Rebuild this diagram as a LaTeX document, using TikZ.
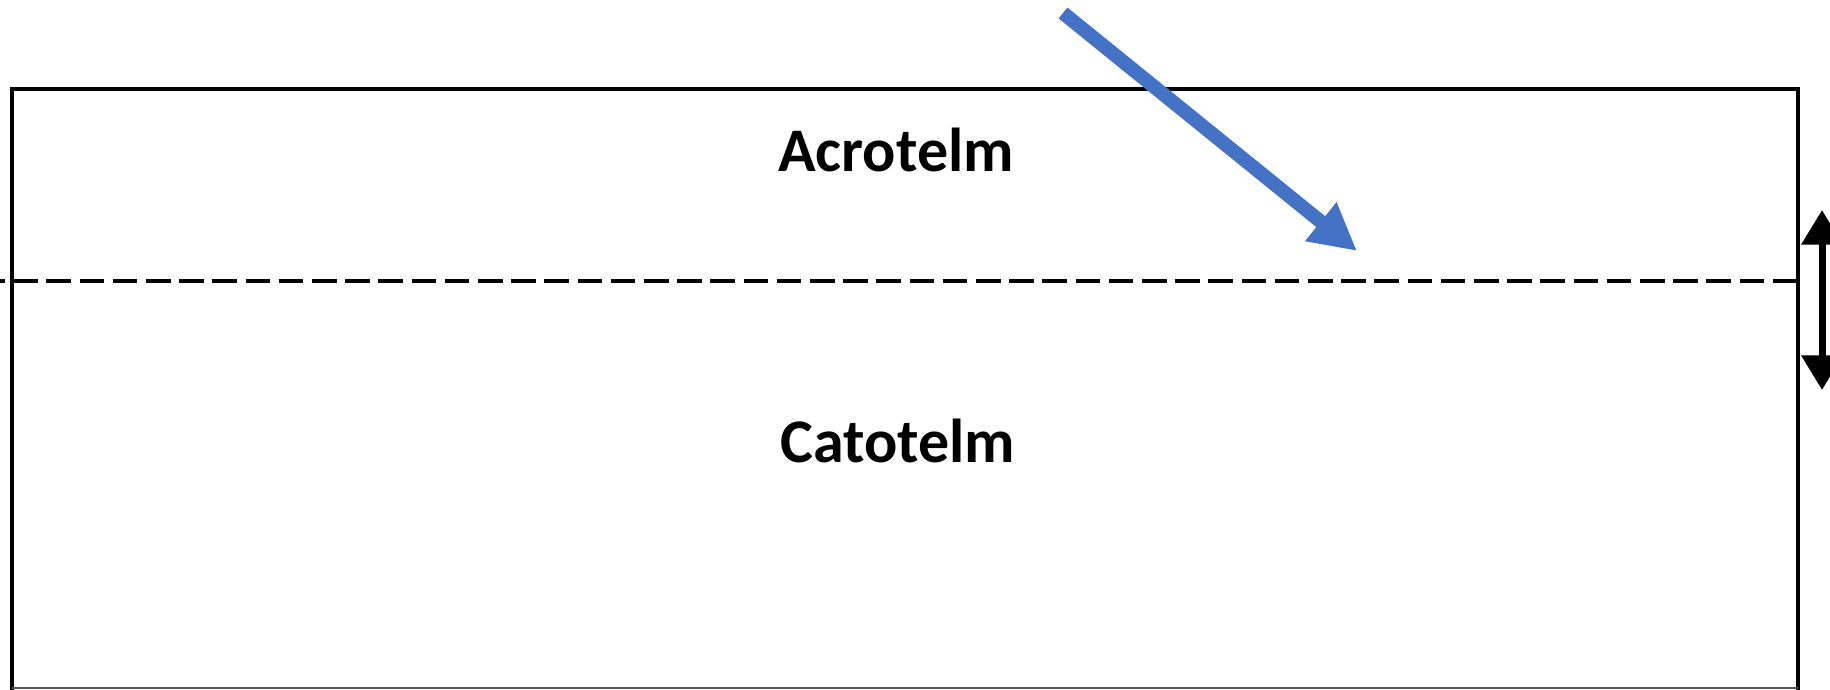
\documentclass[tikz,border=0pt]{standalone}
\usepackage{fontspec}
\setmainfont{Carlito}
\usetikzlibrary{arrows.meta}
\definecolor{arrowblue}{HTML}{4472C4}
\definecolor{bottomgrey}{HTML}{555555}
\tikzset{
  layerlabel/.style={font=\fontsize{46.5}{50}\selectfont\bfseries, anchor=base, inner sep=0pt},
  boxline/.style={line width=2.4pt, black, line cap=rect},
  waterline/.style={line width=3pt, black, dash pattern=on 18.4pt off 6.5pt},
  inflow/.style={line width=10.5pt, arrowblue, -{Triangle[width=35pt,length=35pt]}},
  fluct/.style={line width=5.25pt, black, {Triangle[width=30pt,length=26pt]}-{Triangle[width=30pt,length=26pt]}}
}
\begin{document}
\begin{tikzpicture}[x=0.75pt,y=-0.75pt]
\useasboundingbox (0,0) rectangle (1830,689);
% box
\coordinate (tl) at (12,89);
\coordinate (tr) at (1798,89);
\coordinate (bl) at (12,688);
\coordinate (br) at (1798,688);
\coordinate (lw) at (12,281);
\draw[boxline, line width=2.7pt] (tl) -- (tr);
\draw[boxline] (tr) -- (br);
\draw[boxline] (lw) -- (bl);
\draw[boxline, line width=3.6pt] (tl) -- (lw);
\draw[line width=1.2pt, bottomgrey] (bl) -- (br);
% water table
\coordinate (ws) at (-20,281);
\coordinate (we) at (1798,281);
\draw[waterline] (ws) -- (we);
% labels
\node[layerlabel] (acro) at (896,171.5) {Acrotelm};
\node[layerlabel] (cato) at (898,462.5) {Catotelm};
% blue inflow arrow
\coordinate (bs) at (1063,13);
\coordinate (bt) at (1357,251);
\draw[inflow] (bs) -- (bt);
% double arrow
\coordinate (dt) at (1822,210);
\coordinate (db) at (1822,390);
\draw[fluct] (dt) -- (db);
\end{tikzpicture}
\end{document}
